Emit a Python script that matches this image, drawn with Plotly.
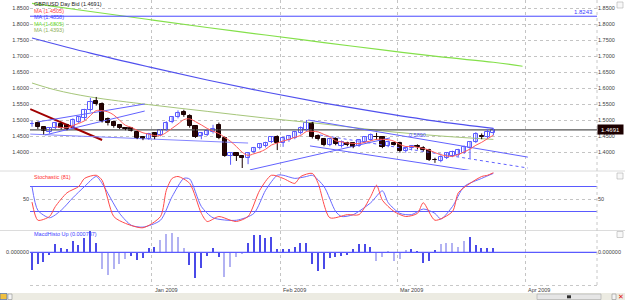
import numpy as np
import pandas as pd
import plotly.graph_objects as go
from pandas.tseries.offsets import BDay

# ---------------- data ----------------
first_day = pd.Timestamp("2008-12-03")
n_candles = 80

opens = [1.487, 1.490, 1.477, 1.463, 1.476, 1.488, 1.484, 1.478, 1.494, 1.505,
         1.530, 1.558, 1.550, 1.502, 1.493, 1.483, 1.475, 1.474, 1.463, 1.446,
         1.442, 1.458, 1.453, 1.469, 1.494, 1.509, 1.525, 1.512, 1.480, 1.449,
         1.454, 1.462, 1.484, 1.444, 1.386, 1.396, 1.386, 1.381, 1.400, 1.412,
         1.419, 1.431, 1.447, 1.428, 1.436, 1.444, 1.459, 1.469, 1.490, 1.450,
         1.440, 1.422, 1.440, 1.418, 1.428, 1.427, 1.420, 1.432, 1.438, 1.448,
         1.447, 1.419, 1.427, 1.428, 1.402, 1.412, 1.418, 1.414, 1.406, 1.376,
         1.373, 1.382, 1.389, 1.391, 1.398, 1.413, 1.430, 1.449, 1.446, 1.458]
highs = [1.497, 1.495, 1.480, 1.478, 1.494, 1.492, 1.488, 1.505, 1.512, 1.535,
         1.569, 1.572, 1.555, 1.508, 1.498, 1.487, 1.478, 1.477, 1.466, 1.450,
         1.460, 1.462, 1.472, 1.496, 1.512, 1.530, 1.532, 1.518, 1.484, 1.462,
         1.470, 1.485, 1.492, 1.448, 1.397, 1.400, 1.390, 1.400, 1.416, 1.428,
         1.432, 1.450, 1.452, 1.448, 1.452, 1.466, 1.480, 1.500, 1.494, 1.455,
         1.444, 1.445, 1.446, 1.436, 1.432, 1.431, 1.440, 1.450, 1.458, 1.460,
         1.450, 1.436, 1.430, 1.432, 1.418, 1.422, 1.424, 1.418, 1.410, 1.382,
         1.390, 1.400, 1.404, 1.410, 1.420, 1.434, 1.462, 1.458, 1.472, 1.474]
lows = [1.479, 1.472, 1.455, 1.458, 1.472, 1.471, 1.468, 1.474, 1.490, 1.500,
        1.526, 1.545, 1.492, 1.483, 1.476, 1.472, 1.468, 1.464, 1.440, 1.437,
        1.438, 1.440, 1.449, 1.465, 1.490, 1.505, 1.510, 1.476, 1.444, 1.440,
        1.450, 1.458, 1.440, 1.385, 1.360, 1.372, 1.350, 1.362, 1.396, 1.408,
        1.414, 1.428, 1.406, 1.416, 1.432, 1.440, 1.455, 1.465, 1.442, 1.436,
        1.418, 1.418, 1.421, 1.414, 1.418, 1.412, 1.416, 1.428, 1.434, 1.438,
        1.412, 1.415, 1.420, 1.398, 1.398, 1.405, 1.408, 1.402, 1.372, 1.366,
        1.368, 1.378, 1.384, 1.386, 1.394, 1.381, 1.428, 1.440, 1.442, 1.452]
closes = [1.489, 1.477, 1.466, 1.474, 1.490, 1.476, 1.473, 1.500, 1.508, 1.531,
          1.557, 1.551, 1.498, 1.490, 1.482, 1.476, 1.471, 1.467, 1.444, 1.442,
          1.455, 1.448, 1.468, 1.492, 1.508, 1.521, 1.516, 1.480, 1.448, 1.458,
          1.466, 1.472, 1.444, 1.388, 1.396, 1.386, 1.381, 1.397, 1.412, 1.425,
          1.428, 1.447, 1.428, 1.444, 1.449, 1.462, 1.475, 1.490, 1.447, 1.440,
          1.422, 1.440, 1.425, 1.431, 1.422, 1.417, 1.436, 1.446, 1.453, 1.446,
          1.416, 1.431, 1.423, 1.402, 1.414, 1.418, 1.416, 1.406, 1.376, 1.375,
          1.385, 1.396, 1.400, 1.405, 1.415, 1.430, 1.455, 1.446, 1.462, 1.4691]

# long moving averages (candle index, value)
ma200_idx = [0, 10, 20, 30, 40, 50, 60, 70, 79, 84]
ma200_val = [1.8647, 1.839, 1.814, 1.789, 1.7656, 1.742, 1.719, 1.697, 1.6805, 1.668]
ma100_idx = [0, 10, 20, 30, 40, 50, 60, 70, 79]
ma100_val = [1.7563, 1.709, 1.666, 1.625, 1.5875, 1.553, 1.522, 1.494, 1.474]
ma50_idx = [0, 4, 10, 20, 30, 40, 50, 60, 70, 79]
ma50_val = [1.6156, 1.594, 1.572, 1.548, 1.527, 1.506, 1.4875, 1.466, 1.450, 1.4393]
short_ma_period = 5

legend_texts = ["MA (1.4505)", "MA (1.4858)", "MA (1.6805)", "MA (1.4393)"]

# horizontal line level
level_line = 1.8243

# user trendlines (candle index, price)
tl_x0 = [-0.3, -0.3, 1.0, 2.2, 37.3, 47.3, 47.6, 49.3]
tl_y0 = [1.534, 1.456, 1.494, 1.453, 1.344, 1.500, 1.419, 1.453]
tl_x1 = [12.0, 37.0, 19.3, 19.3, 61.3, 84.9, 76.7, 84.9]
tl_y1 = [1.4375, 1.428, 1.550, 1.528, 1.444, 1.384, 1.3375, 1.350]
tl_kind = ["red", "light", "blue", "blue", "blue", "blue", "blue", "dot"]
fib_label = "0.5890"
fib_idx, fib_price = 66, 1.4525

# stochastic
stoch_k_idx = [0, 1, 3, 4, 6, 8, 9, 11, 12, 14, 16, 19, 22, 23, 24, 25, 27, 29, 30, 32,
               34, 35, 37, 39, 41, 43, 45, 46, 48, 49, 51, 54, 56, 58, 59, 60, 62, 64, 66, 67,
               69, 72, 73, 75, 77, 78, 79]
stoch_k_val = [45, 16, 22, 38, 60, 70, 83, 88, 80, 22, 11, 4, 22, 64, 83, 86, 75, 27, 14, 22,
               16, 14, 22, 64, 88, 83, 75, 86, 91, 75, 20, 25, 25, 54, 72, 48, 30, 22, 27, 44,
               16, 30, 60, 75, 86, 88, 92]
stoch_d_idx = [0, 1, 3, 5, 7, 9, 11, 12, 15, 17, 19, 22, 24, 26, 27, 29, 31, 35, 38, 40,
               42, 43, 45, 47, 48, 50, 52, 53, 55, 58, 60, 61, 63, 65, 67, 69, 70, 72, 74, 77,
               78, 79]
stoch_d_val = [70, 32, 20, 32, 52, 70, 86, 75, 27, 8, 5, 16, 54, 83, 82, 38, 20, 16, 27, 64,
               88, 88, 83, 86, 88, 70, 30, 22, 25, 44, 63, 44, 27, 25, 34, 27, 18, 38, 70, 83,
               87, 91]
stoch_levels = [70, 30]

# MACD histogram
macd_hist = [-0.00354, -0.0024, -0.00186, -0.00054, 0.00166, 0.0008, 0.0006, 0.00226, 0.00146, 0.0028,
             0.00426, 0.00194, -0.0034, -0.00454, -0.00334, -0.0024, -0.0014, -0.00074, -0.00154, -0.00106,
             0.0008, 0.00114, 0.00246, 0.00366, 0.00394, 0.003, 0.00094, -0.00254, -0.00506, -0.00306,
             -0.00074, 0.00094, -0.001, -0.00486, -0.00286, -0.001, -0.0004, 0.00194, 0.00346, 0.00346,
             0.0028, 0.00314, 0.00066, 0.0006, 0.00066, 0.001, 0.00194, 0.0018, -0.0023, -0.00374,
             -0.0034, -0.0012, -0.001, -0.00074, -0.00054, 0.00066, 0.00166, 0.00166, 0.001, -0.00166,
             -0.001, 0.0001, -0.00166, -0.0014, 0.00046, 0.00066, 0.0001, -0.00206, -0.00174, 0.00046,
             0.00166, 0.0018, 0.00194, 0.001, 0.00226, 0.003, 0.00146, 0.0008, 0.0009, 0.000787]
macd_shade = "DDDDDDDDDDDDLLLLLDDDDDLLLLLDDDDDDLLLLDDDDDDDDDDDDDDDDDDDDDDLLLLLLDDDDDLLLLLDDDDD"

main_ticks = [1.40, 1.45, 1.50, 1.55, 1.60, 1.65, 1.70, 1.75, 1.80, 1.85]
month_ticks = ["2009-01-01", "2009-02-02", "2009-03-02", "2009-04-01"]
month_labels = ["Jan 2009", "Feb 2009", "Mar 2009", "Apr 2009"]

# ---------------- helpers ----------------
def slot_time(s):
    n = int(np.floor(s))
    frac = s - n
    return first_day + BDay(n) + pd.Timedelta(days=float(frac))

def idx_time(f):
    return slot_time(f + 0.5)

candle_x = [idx_time(i) for i in range(n_candles)]
x_start = slot_time(0.1575)
x_end = slot_time(0.1575 + 567 / 5.84)
DAY_MS = 86400000

UP = "#5a5aff"
DN = "#1a0000"
DNF = "#2e0606"
BLUE = "#5a5aff"
FONT = "Liberation Sans, Arial, sans-serif"
FS = 5.5
TXT = "#404040"

PH = 285.0  # plot height in px
PW = 567.0

fig = go.Figure()

# long MAs (behind)
fig.add_trace(go.Scatter(x=[idx_time(i) for i in ma200_idx], y=ma200_val, mode="lines",
                         line=dict(color="#84e04a", width=1.2, shape="spline"), hoverinfo="skip", showlegend=False))
fig.add_trace(go.Scatter(x=[idx_time(i) for i in ma100_idx], y=ma100_val, mode="lines",
                         line=dict(color="#5050ee", width=1.2, shape="spline"), hoverinfo="skip", showlegend=False))
fig.add_trace(go.Scatter(x=[idx_time(i) for i in ma50_idx], y=ma50_val, mode="lines",
                         line=dict(color="#a6c67a", width=1, shape="spline"), hoverinfo="skip", showlegend=False))

# horizontal lines
fig.add_trace(go.Scatter(x=[x_start, x_end], y=[level_line, level_line], mode="lines",
                         line=dict(color="#4848ff", width=1), hoverinfo="skip", showlegend=False))
fig.add_trace(go.Scatter(x=[x_start, x_end], y=[closes[-1], closes[-1]], mode="lines",
                         line=dict(color="#555555", width=1.2), hoverinfo="skip", showlegend=False))

# trendlines
tl_style = {"red": ("#a00000", 2, "solid"), "light": ("#8585ff", 1, "solid"),
            "blue": ("#6262ff", 1, "solid"), "dot": ("#6262ff", 1, "dot")}
for a, b, c, d, k in zip(tl_x0, tl_y0, tl_x1, tl_y1, tl_kind):
    col, w, dash = tl_style[k]
    fig.add_trace(go.Scatter(x=[idx_time(a), idx_time(c)], y=[b, d], mode="lines",
                             line=dict(color=col, width=w, dash=dash), hoverinfo="skip", showlegend=False))

# candles: wicks then bodies
for is_up, wick_col, fill, edge in [(True, UP, "white", UP), (False, DN, DNF, DN)]:
    ids = [i for i in range(n_candles) if (closes[i] >= opens[i]) == is_up]
    wx, wy = [], []
    for i in ids:
        wx += [candle_x[i], candle_x[i], None]
        wy += [highs[i], lows[i], None]
    fig.add_trace(go.Scatter(x=wx, y=wy, mode="lines", line=dict(color=wick_col, width=1),
                             hoverinfo="skip", showlegend=False))
    fig.add_trace(go.Bar(x=[candle_x[i] for i in ids],
                         y=[max(abs(closes[i] - opens[i]), 0.0006) for i in ids],
                         base=[min(opens[i], closes[i]) for i in ids],
                         width=0.72 * DAY_MS,
                         marker=dict(color=fill, line=dict(color=edge, width=1)),
                         hoverinfo="skip", showlegend=False))

# short MA
short_ma = pd.Series(closes).rolling(short_ma_period).mean()
fig.add_trace(go.Scatter(x=candle_x, y=short_ma, mode="lines",
                         line=dict(color="#ff5a5a", width=1, shape="spline"), hoverinfo="skip", showlegend=False))

# stochastic
for lv in stoch_levels:
    fig.add_trace(go.Scatter(x=[x_start, x_end], y=[lv, lv], mode="lines", xaxis="x2", yaxis="y2",
                             line=dict(color=BLUE, width=1.2), hoverinfo="skip", showlegend=False))
fig.add_trace(go.Scatter(x=[idx_time(i) for i in stoch_d_idx], y=stoch_d_val, mode="lines", xaxis="x2", yaxis="y2",
                         line=dict(color="#6a6aff", width=1, shape="spline", smoothing=0.7),
                         hoverinfo="skip", showlegend=False))
fig.add_trace(go.Scatter(x=[idx_time(i) for i in stoch_k_idx], y=stoch_k_val, mode="lines", xaxis="x2", yaxis="y2",
                         line=dict(color="#ff4a4a", width=1, shape="spline", smoothing=0.7),
                         hoverinfo="skip", showlegend=False))

# MACD
fig.add_trace(go.Scatter(x=[x_start, x_end], y=[0, 0], mode="lines", xaxis="x3", yaxis="y3",
                         line=dict(color=BLUE, width=1.2), hoverinfo="skip", showlegend=False))
bar_cols = ["#4a4ae8" if s == "D" else "#b2b2f2" for s in macd_shade]
fig.add_trace(go.Bar(x=candle_x, y=macd_hist, width=0.26 * DAY_MS, marker=dict(color=bar_cols, line=dict(width=0)),
                     xaxis="x3", yaxis="y3", hoverinfo="skip", showlegend=False))

# invisible traces to show right-side axes
fig.add_trace(go.Scatter(x=[candle_x[0]], y=[closes[0]], yaxis="y4", mode="markers",
                         marker=dict(opacity=0), hoverinfo="skip", showlegend=False))
fig.add_trace(go.Scatter(x=[candle_x[0]], y=[50], xaxis="x2", yaxis="y5", mode="markers",
                         marker=dict(opacity=0), hoverinfo="skip", showlegend=False))
fig.add_trace(go.Scatter(x=[candle_x[0]], y=[0], xaxis="x3", yaxis="y6", mode="markers",
                         marker=dict(opacity=0), hoverinfo="skip", showlegend=False))

xcommon = dict(type="date", range=[x_start, x_end], rangebreaks=[dict(bounds=["sat", "mon"])],
               tickmode="array", tickvals=month_ticks, showticklabels=False, ticks="",
               showgrid=True, gridcolor="#c4c4c4", griddash="dot", gridwidth=1,
               zeroline=False, showline=False, domain=[0, 1])

main_dom = [1 - 170 / PH, 1]
stoch_dom = [1 - 230 / PH, 1 - 172 / PH]
macd_dom = [0, 1 - 231 / PH]
main_rng = [1.34375, 1.875]
stoch_rng = [0.4, 93.2]
macd_rng = [-0.00654, 0.00426]
tickfont = dict(family=FONT, size=FS, color=TXT)

ymain = dict(domain=main_dom, range=main_rng, tickmode="array", tickvals=main_ticks,
             ticktext=[f"{v:.4f}" for v in main_ticks], tickfont=tickfont, ticks="",
             zeroline=False, showline=False)
ystoch = dict(domain=stoch_dom, range=stoch_rng, tickmode="array", tickvals=[50], ticktext=["50"],
              tickfont=tickfont, ticks="", zeroline=False, showline=False)
ymacd = dict(domain=macd_dom, range=macd_rng, tickmode="array", tickvals=[0], ticktext=["0.000000"],
             tickfont=tickfont, ticks="", zeroline=False, showline=False)

fig.update_layout(
    width=625, height=300, margin=dict(l=30, r=28, t=0, b=15),
    paper_bgcolor="white", plot_bgcolor="white", showlegend=False, barmode="overlay", bargap=0,
    font=dict(family=FONT, size=FS, color=TXT),
    xaxis=dict(xcommon, anchor="y"),
    xaxis2=dict(xcommon, anchor="y2", matches="x"),
    xaxis3=dict(xcommon, anchor="y3", matches="x"),
    yaxis=dict(ymain, anchor="x", side="left", showgrid=True, gridcolor="#c4c4c4", griddash="dot"),
    yaxis4=dict(ymain, anchor="x", side="right", overlaying="y", showgrid=False),
    yaxis2=dict(ystoch, anchor="x2", side="left", showgrid=True, gridcolor="#c4c4c4", griddash="dot"),
    yaxis5=dict(ystoch, anchor="x2", side="right", overlaying="y2", showgrid=False),
    yaxis3=dict(ymacd, anchor="x3", side="left", showgrid=False),
    yaxis6=dict(ymacd, anchor="x3", side="right", overlaying="y3", showgrid=False),
)

ann = []
def ptext(px_x, px_y, text, color, size=FS, xanchor="left"):
    ann.append(dict(xref="paper", yref="paper", x=(px_x - 30) / PW, y=1 - px_y / PH, text=text,
                    showarrow=False, xanchor=xanchor, yanchor="middle",
                    font=dict(family=FONT, size=size, color=color)))

# legend texts
ptext(32, 4, f"GBP/USD Day Bid ({closes[-1]:.4f})", "#202020")
for t, c, yy in zip(legend_texts, ["#ff4040", "#4040ff", "#6ee030", "#8fb05a"], [10.7, 16.7, 23.5, 30]):
    ptext(32, yy, t, c)
ptext(32, 176.5, "Stochastic (81)", "#ff3030")
ptext(32, 234, f"MacdHisto Up ({macd_hist[-1]:.6f})", "#4040ff")

# level label
ann.append(dict(xref="paper", yref="y", x=1, y=level_line, text=f"{level_line:.4f}", showarrow=False,
                xanchor="right", yanchor="bottom", xshift=-2, yshift=-1,
                font=dict(family=FONT, size=FS + 0.5, color="#4040ff")))
# last price label
ann.append(dict(xref="paper", yref="y", x=1, y=closes[-1], text=f"{closes[-1]:.4f}", showarrow=False,
                xanchor="left", yanchor="middle", bgcolor="#1c0000", borderpad=1.5, width=22,
                font=dict(family=FONT, size=FS + 0.5, color="white")))
# fib label
ann.append(dict(xref="x", yref="y", x=idx_time(fib_idx), y=fib_price, text=fib_label, showarrow=False,
                xanchor="center", yanchor="middle", font=dict(family=FONT, size=FS, color="#5050ff")))
# month labels
for mt, ml in zip(month_ticks, month_labels):
    ann.append(dict(xref="x3", yref="paper", x=mt, y=-4.5 / PH, text=ml, showarrow=False,
                    xanchor="left", yanchor="middle", xshift=1, font=dict(family=FONT, size=FS, color=TXT)))
# red close icon
ann.append(dict(xref="paper", yref="paper", x=(621 - 30) / PW, y=-11.5 / PH, text="<b>✕</b>", showarrow=False,
                xanchor="center", yanchor="middle", font=dict(family="DejaVu Sans", size=7, color="#e01010")))
fig.update_layout(annotations=ann)

def px_rect(x0, y0, x1, y1, fill, line="rgba(0,0,0,0)", lw=0):
    return dict(type="rect", xref="paper", yref="paper", x0=(x0 - 30) / PW, x1=(x1 - 30) / PW,
                y0=1 - y1 / PH, y1=1 - y0 / PH, fillcolor=fill, line=dict(color=line, width=lw), layer="above")

def px_line(x0, y0, x1, y1, color, dash="solid", lw=1):
    return dict(type="line", xref="paper", yref="paper", x0=(x0 - 30) / PW, x1=(x1 - 30) / PW,
                y0=1 - y0 / PH, y1=1 - y1 / PH, line=dict(color=color, width=lw, dash=dash))

shapes = [
    px_line(0, 171, 625, 171, "#dcdcdc"),
    px_line(0, 230.5, 625, 230.5, "#dcdcdc"),
    px_line(30, 285.5, 597, 285.5, "#c8c8c8", "dot"),
    px_line(597, 0, 597, 285, "#c8c8c8", "dot"),
    px_rect(0, 293, 625, 300, "#ecebe2"),
    px_rect(537, 294, 601, 299.5, "#e6e6e6", "#a8a8a8", 0.6),
    px_rect(567, 295.3, 571, 298.3, "#303030"),
    px_rect(612, 294, 616, 299.5, "#f4f4f4", "#909090", 0.6),
    px_rect(0, 293.5, 7, 299.5, "#f0c040", "#3060c0", 0.6),
    px_rect(8, 294, 12, 299.5, "#f4f4f4", "#909090", 0.6),
    px_rect(617, 2, 623, 8, "#f8f8f8", "#b0b0b0", 0.6),
    px_rect(617, 173, 623, 179, "#f8f8f8", "#b0b0b0", 0.6),
    px_rect(617, 231.5, 623, 237.5, "#f8f8f8", "#b0b0b0", 0.6),
]
fig.update_layout(shapes=shapes)

fig.write_html("out.html")
